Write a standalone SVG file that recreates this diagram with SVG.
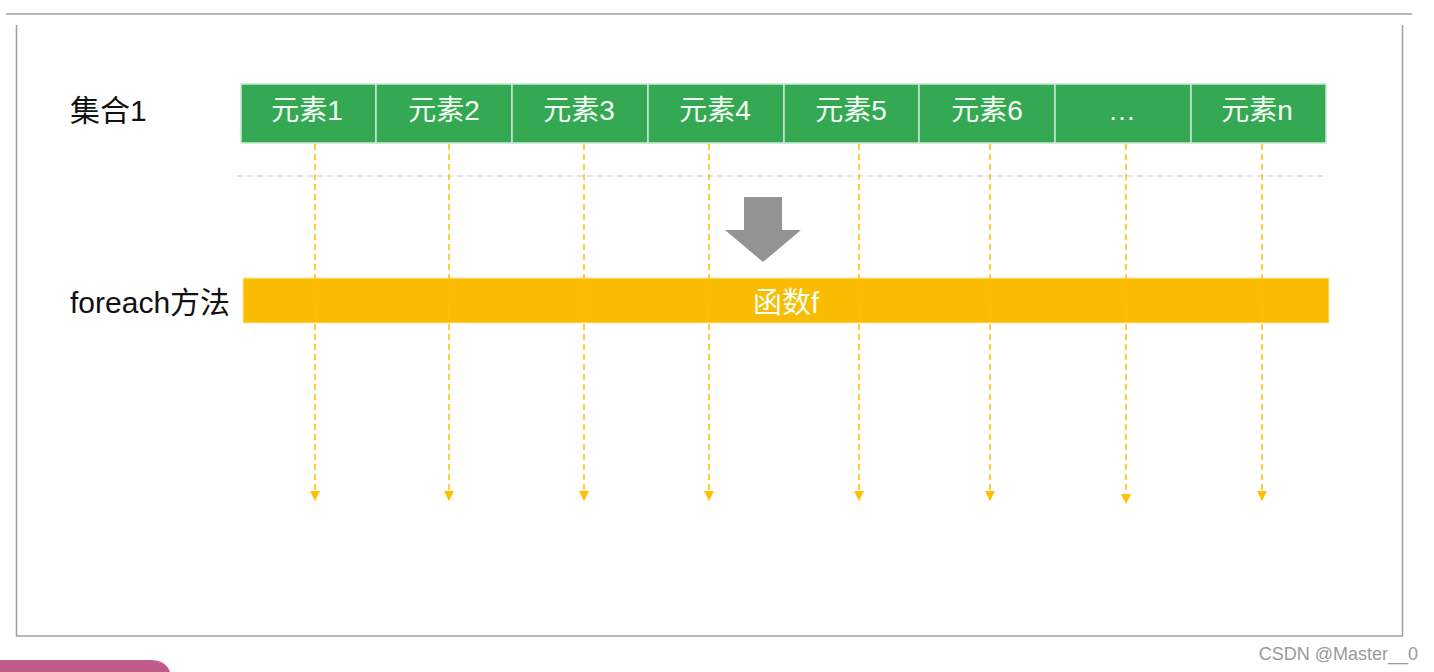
<svg xmlns="http://www.w3.org/2000/svg" width="1434" height="672" viewBox="0 0 1434 672">
<defs>
<style>
.frame{stroke:#a0a0a0;stroke-width:1.5;fill:none}
.cell{fill:#34a853;stroke:#c8e8cf;stroke-width:1.5}
.ct{font-family:"Liberation Sans","Noto Sans CJK SC",sans-serif;font-size:28px;fill:#f4fff4;text-anchor:middle}
.lbl{font-family:"Liberation Sans","Noto Sans CJK SC",sans-serif;font-size:30px;fill:#111}
.flow{stroke:#ffc000;stroke-width:1.5;stroke-dasharray:6 4;fill:none}
</style>
<marker id="ah" viewBox="0 0 10 10" refX="9" refY="5" markerWidth="10" markerHeight="10" markerUnits="userSpaceOnUse" orient="auto">
<path d="M0,0 L10,5 L0,10 Z" fill="#ffc000"/>
</marker>
</defs>
<rect width="1434" height="672" fill="#fff"/>
<g id="frame">
<line class="frame" x1="6" y1="14" x2="1412" y2="14"/>
<polyline class="frame" points="16.5,25 16.5,636 1402.5,636 1402.5,25"/>
</g>
<g id="label-set"><text class="lbl" x="70" y="121">集合1</text></g>
<g id="label-foreach"><text class="lbl" x="70" y="313">foreach方法</text></g>
<g id="cells">
<g id="e1"><rect class="cell" x="241" y="84" width="135" height="59"/><text class="ct" x="307" y="120">元素1</text></g>
<g id="e2"><rect class="cell" x="376" y="84" width="136" height="59"/><text class="ct" x="444" y="120">元素2</text></g>
<g id="e3"><rect class="cell" x="512" y="84" width="136" height="59"/><text class="ct" x="579" y="120">元素3</text></g>
<g id="e4"><rect class="cell" x="648" y="84" width="136" height="59"/><text class="ct" x="715" y="120">元素4</text></g>
<g id="e5"><rect class="cell" x="784" y="84" width="135" height="59"/><text class="ct" x="851" y="120">元素5</text></g>
<g id="e6"><rect class="cell" x="919" y="84" width="136" height="59"/><text class="ct" x="987" y="120">元素6</text></g>
<g id="e7"><rect class="cell" x="1055" y="84" width="136" height="59"/><text class="ct" x="1122" y="120">…</text></g>
<g id="en"><rect class="cell" x="1191" y="84" width="135" height="59"/><text class="ct" x="1257" y="120">元素n</text></g>
</g>
<line x1="237" y1="176" x2="1323" y2="176" stroke="#c6c6c6" stroke-width="1.2" stroke-dasharray="6 4"/>
<g id="big-arrow"><polygon points="744,197 782,197 782,230 801,230 763,262 725,230 744,230" fill="#939393"/></g>
<g id="func"><rect x="243" y="278" width="1086" height="45" fill="#f9bc02" stroke="#fde9a8" stroke-width="1"/><text class="ct" x="786" y="313" style="font-size:29px">函数f</text></g>
<g id="connectors">
<line class="flow" x1="315" y1="144" x2="315" y2="500" marker-end="url(#ah)"/>
<line class="flow" x1="449" y1="144" x2="449" y2="500" marker-end="url(#ah)"/>
<line class="flow" x1="584" y1="144" x2="584" y2="500" marker-end="url(#ah)"/>
<line class="flow" x1="709" y1="144" x2="709" y2="500" marker-end="url(#ah)"/>
<line class="flow" x1="859" y1="144" x2="859" y2="500" marker-end="url(#ah)"/>
<line class="flow" x1="990" y1="144" x2="990" y2="500" marker-end="url(#ah)"/>
<line class="flow" x1="1126" y1="144" x2="1126" y2="503" marker-end="url(#ah)"/>
<line class="flow" x1="1262" y1="144" x2="1262" y2="500" marker-end="url(#ah)"/>
</g>
<path d="M0,672 L0,660 L150,660 Q166,660 170,672 Z" fill="#c05c8a"/>
<text x="1418" y="660" text-anchor="end" font-family="Liberation Sans, sans-serif" font-size="18" fill="#9a9a9a">CSDN @Master__0</text>
</svg>
